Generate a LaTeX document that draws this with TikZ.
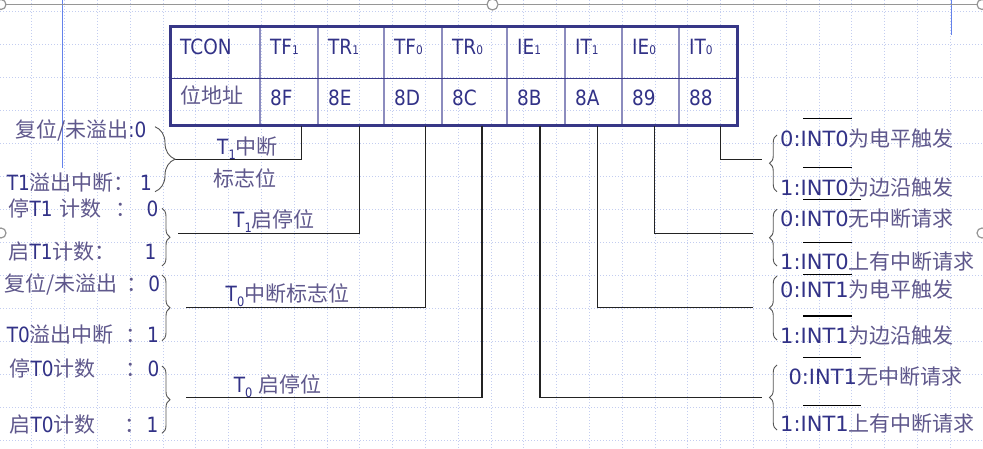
\documentclass[tikz,border=0pt]{standalone}
\usepackage{fontspec}
\setmainfont{DejaVu Sans}[FakeStretch=0.88]
\newfontfamily\widefont{DejaVu Sans}
\newfontfamily\cjkfont{Noto Sans CJK SC}
\usetikzlibrary{decorations.pathreplacing}
\definecolor{navy}{RGB}{55,55,135}
\definecolor{cellline}{RGB}{140,140,190}
\definecolor{txt}{RGB}{50,50,135}
\definecolor{cjkc}{RGB}{95,88,140}
\definecolor{gridc}{RGB}{195,205,240}
\definecolor{conn}{RGB}{35,35,35}
\definecolor{bracec}{RGB}{85,85,85}
\definecolor{selblue}{RGB}{100,130,235}
\definecolor{handlec}{RGB}{150,150,150}
\newcommand{\zh}[1]{{\cjkfont\color{cjkc}#1}}
\newcommand{\lowsub}[1]{{\fontsize{12}{12}\selectfont #1}}
\newcommand{\dropsub}[1]{\raisebox{-5pt}{\fontsize{13}{13}\selectfont #1}}
\begin{document}
\begin{tikzpicture}[x=1pt,y=-1pt,
  font=\fontsize{21}{24}\selectfont,
  lbl/.style={inner sep=0pt, text=txt, text height=15.5pt, text depth=0pt},
  cell/.style={lbl, anchor=west},
  leftlbl/.style={lbl, anchor=west, align=left},
  rightlbl/.style={lbl, anchor=west, font=\fontsize{21}{24}\selectfont\widefont},
  gridline/.style={gridc, line width=0.8pt, dash pattern=on 1pt off 2pt},
  connector/.style={conn, line width=1.3pt},
  overbar/.style={black, line width=1.1pt},
  rbrace/.style={bracec, line width=0.9pt, decorate, decoration={brace, amplitude=#1}},
  handle/.style={handlec, fill=white, line width=1.2pt}
]
\useasboundingbox (0,0) rectangle (983,449);
\fill[white] (0,0) rectangle (983,449);
% background grid
\foreach \i in {0,...,29} \draw[gridline] ({31.7+32.8*\i},0) -- ({31.7+32.8*\i},449);
\foreach \j in {0,...,13} \draw[gridline] (0,{11.7+33*\j}) -- (983,{11.7+33*\j});
% selection marks
\draw[selblue, line width=0.9pt] (62.3,0) -- (62.3,168);
\draw[selblue, line width=0.9pt] (951,0) -- (951,35);
\draw[handlec, line width=1.2pt] (0,4.3) -- (983,4.3);
\draw[handle] (1,4.5) circle (5);
\draw[handle] (492.5,4.5) circle (5.5);
\draw[handle] (982,4.5) circle (5);
\draw[handle] (1,233) circle (5);
\draw[handle] (982,233) circle (5);

% table
\foreach \x in {260,318,384,442,507,565,622,679} \draw[cellline, line width=1.3pt] (\x,27) -- (\x,126);
\draw[navy, line width=1.3pt] (170,78.7) -- (737,78.7);
\draw[navy, line width=3pt] (170,27) rectangle (737,126);

\node[cell] (tcon) at (180,47) {TCON};
\node[cell] (htf1) at (270,47) {TF\lowsub{1}};
\node[cell] (htr1) at (328,47) {TR\lowsub{1}};
\node[cell] (htf0) at (394,47) {TF\lowsub{0}};
\node[cell] (htr0) at (452,47) {TR\lowsub{0}};
\node[cell] (hie1) at (517,47) {IE\lowsub{1}};
\node[cell] (hit1) at (575,47) {IT\lowsub{1}};
\node[cell] (hie0) at (632,47) {IE\lowsub{0}};
\node[cell] (hit0) at (689,47) {IT\lowsub{0}};

\node[cell] (addr) at (180,96) {\zh{位地址}};
\node[cell] (a8f) at (270,97.5) {8F};
\node[cell] (a8e) at (328,97.5) {8E};
\node[cell] (a8d) at (394,97.5) {8D};
\node[cell] (a8c) at (452,97.5) {8C};
\node[cell] (a8b) at (517,97.5) {8B};
\node[cell] (a8a) at (575,97.5) {8A};
\node[cell] (a89) at (632,97.5) {89};
\node[cell] (a88) at (689,97.5) {88};

% connector start points (bottom of table)
\coordinate (tf1) at (301.7,126);
\coordinate (tr1) at (359.3,126);
\coordinate (tf0) at (425.3,126);
\coordinate (tr0) at (482,126);
\coordinate (ie1) at (540,126);
\coordinate (it1) at (597.7,126);
\coordinate (ie0) at (654.3,126);
\coordinate (it0) at (720.7,126);
% connector end points (at braces)
\coordinate (etf1) at (175,159.3);
\coordinate (etr1) at (178.3,233.3);
\coordinate (etf0) at (186,307.3);
\coordinate (etr0) at (186,397.7);
\coordinate (eit0) at (761.7,159.3);
\coordinate (eie0) at (753.3,233.3);
\coordinate (eit1) at (753.3,307.3);
\coordinate (eie1) at (761.7,397.7);

\draw[connector] (tf1) |- (etf1);
\draw[connector] (tr1) |- (etr1);
\draw[connector] (tf0) |- (etf0);
\draw[connector] (tr0) |- (etr0);
\draw[connector] (it0) |- (eit0);
\draw[connector] (ie0) |- (eie0);
\draw[connector] (it1) |- (eit1);
\draw[connector] (ie1) |- (eie1);

% left braces
\draw[rbrace=20pt] (155,126.7) -- (155,191.7);
\draw[rbrace=8pt] (162,208.3) -- (162,266);
\draw[rbrace=8pt] (162,275) -- (162,340.7);
\draw[rbrace=8pt] (162,366) -- (162,433.3);
% right braces
\draw[rbrace=7.5pt] (777,191.7) -- (777,135);
\draw[rbrace=7.5pt] (777,266) -- (777,209.3);
\draw[rbrace=7.5pt] (777,340) -- (777,276);
\draw[rbrace=7.5pt] (777,430) -- (777,365);

% middle labels
\node[lbl] (m1) at (247.5,146.7) {T\dropsub{1}\zh{中断}};
\node[lbl] (m2) at (244.7,178.3) {\zh{标志位}};
\node[lbl] (m3) at (274,220) {T\dropsub{1}\zh{启停位}};
\node[lbl] (m4) at (287.5,293.3) {T\dropsub{0}\zh{中断标志位}};
\node[lbl] (m5) at (277.5,385) {T\dropsub{0} \zh{启停位}};

% left labels
\node[leftlbl, text width=137pt] (l1) at (15,130) {\zh{复位/未溢出}:0};
\node[leftlbl, text width=145pt] (l2) at (6.7,182.7) {T1\zh{溢出中断：}\hfill 1};
\node[leftlbl, text width=150pt] (l3) at (8.3,208.3) {\zh{停}T1 \zh{计数}\hfill\zh{：}\hspace{10pt}0};
\node[leftlbl, text width=148pt] (l4) at (8.3,251.7) {\zh{启}T1\zh{计数：}\hfill 1};
\node[leftlbl, text width=156pt] (l5) at (4,283.3) {\zh{复位/未溢出}\hfill\zh{：}\hspace{1pt}0};
\node[leftlbl, text width=152pt] (l6) at (6.7,335) {T0\zh{溢出中断}\hfill\zh{：}\hspace{1pt}1};
\node[leftlbl, text width=150pt] (l7) at (9.3,368.3) {\zh{停}T0\zh{计数}\hfill\zh{：}\hspace{1pt}0};
\node[leftlbl, text width=149pt] (l8) at (9.3,425) {\zh{启}T0\zh{计数}\hfill\zh{：}\hspace{1pt}1};

% right labels
\node[rightlbl] (r1) at (780,138.3) {0:INT0\zh{为电平触发}};
\node[rightlbl] (r2) at (780,187.3) {1:INT0\zh{为边沿触发}};
\node[rightlbl] (r3) at (780,218.3) {0:INT0\zh{无中断请求}};
\node[rightlbl] (r4) at (780,261.7) {1:INT0\zh{上有中断请求}};
\node[rightlbl] (r5) at (780,290) {0:INT1\zh{为电平触发}};
\node[rightlbl] (r6) at (780,336) {1:INT1\zh{为边沿触发}};
\node[rightlbl] (r7) at (788.3,376.7) {0:INT1\zh{无中断请求}};
\node[rightlbl] (r8) at (780,423.3) {1:INT1\zh{上有中断请求}};

% overlines
\draw[overbar] (803,118.3) -- (851.7,118.3);
\draw[overbar] (803,167.3) -- (851.7,167.3);
\draw[overbar] (803,199.3) -- (860.7,199.3);
\draw[overbar] (803,242.3) -- (851.7,242.3);
\draw[overbar] (803,274.3) -- (851.7,274.3);
\draw[overbar] (803,316) -- (851.7,316);
\draw[overbar] (803,357.3) -- (860.7,357.3);
\draw[overbar] (803,405.7) -- (860.7,405.7);
\end{tikzpicture}
\end{document}
